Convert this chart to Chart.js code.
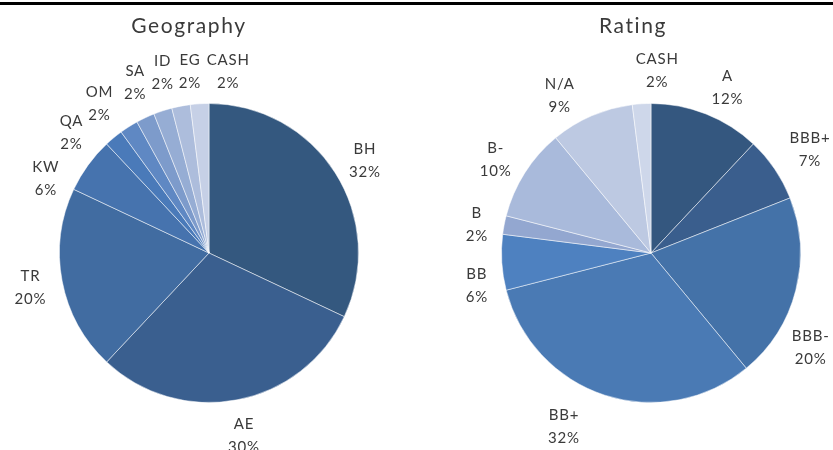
<!DOCTYPE html>
<html>
<head>
<meta charset="utf-8">
<script src="https://cdn.jsdelivr.net/npm/chart.js@4.4.1/dist/chart.umd.min.js"></script>
<style>
  html, body { margin: 0; padding: 0; background: #ffffff; }
  body { width: 833px; height: 450px; overflow: hidden; position: relative; }
  #topline { position: absolute; left: 0; top: 2px; width: 833px; height: 3px; background: #000; }
  .box { position: absolute; top: 0; height: 450px; }
</style>
</head>
<body>
<div id="topline"></div>
<div class="box" style="left:0;width:420px"><canvas id="geo"></canvas></div>
<div class="box" style="left:420px;width:413px"><canvas id="rat"></canvas></div>
<script>
// ---- data ----
const geoTitle = 'Geography';
const geoLabels = ['BH', 'AE', 'TR', 'KW', 'QA', 'OM', 'SA', 'ID', 'EG', 'CASH'];
const geoValues = [32, 30, 20, 6, 2, 2, 2, 2, 2, 2];

const ratingTitle = 'Rating';
const ratingLabels = ['A', 'BBB+', 'BBB-', 'BB+', 'BB', 'B', 'B-', 'N/A', 'CASH'];
const ratingValues = [12, 7, 20, 32, 6, 2, 10, 9, 2];

// ---- styles ----
const geoColors = ['#34587F', '#3A5F8F', '#416CA1', '#4673AE', '#4A7AB9', '#5F88C3', '#7D9BCB', '#96ADD4', '#ADBDDC', '#C6D0E6'];
const ratingColors = ['#34577F', '#3A5E8D', '#4472A8', '#4A7AB4', '#4E81C0', '#93A7D0', '#A9BADB', '#BDC9E2', '#CED7EA'];
const textColor = '#3a3a3a';
// label placement tweaks (best-fit style, degrees along the circle / extra px outward)
const geoLabelNudge = [1.7, -0.3, 0.7, -11.2, -10.3, -4.3, 1.1, 3.1, 4.6, 9.5];
const geoLabelPush = [0, 0, 0, 0, 4, 4, 4, 4, 0, 0];
const ratingLabelNudge = [3.3, 0.5, 15.6, 9.2, -6, -1.2, -1.3, -7, 5.5];
const ratingLabelPush = [0, 5, 0, 9, 0, 0, 0, 0, 0];

// title plugin
const sideTitle = {
  id: 'sideTitle',
  afterDraw(chart, args, o) {
    const ctx = chart.ctx;
    ctx.save();
    ctx.font = o.font;
    if ('letterSpacing' in ctx) ctx.letterSpacing = o.spacing;
    ctx.fillStyle = o.color;
    ctx.textAlign = 'center';
    ctx.textBaseline = 'alphabetic';
    ctx.fillText(o.text, o.x, o.y);
    ctx.restore();
  }
};

// outside labels plugin
const outsideLabels = {
  id: 'outsideLabels',
  afterDatasetsDraw(chart, args, o) {
    const ctx = chart.ctx;
    const meta = chart.getDatasetMeta(0);
    const labels = chart.data.labels;
    const data = chart.data.datasets[0].data;
    ctx.save();
    ctx.font = o.font;
    if ('letterSpacing' in ctx) ctx.letterSpacing = o.spacing;
    ctx.fillStyle = o.color;
    ctx.textAlign = 'center';
    ctx.textBaseline = 'middle';
    const deg = Math.PI / 180;
    const items = meta.data.map((arc, i) => {
      const p = arc.getProps(['x', 'y', 'startAngle', 'endAngle', 'outerRadius'], true);
      const lines = [labels[i], data[i] + '%'];
      const w = Math.max(...lines.map(l => ctx.measureText(l).width));
      const h = lines.length * o.lineHeight;
      const nudge = (o.nudge && o.nudge[i]) || 0;
      const push = (o.push && o.push[i]) || 0;
      return { cx: p.x, cy: p.y, r: p.outerRadius + push, a: (p.startAngle + p.endAngle) / 2 + nudge * deg, w, h, lines };
    });
    const place = it => {
      const dx = Math.cos(it.a), dy = Math.sin(it.a), d = it.r + o.gap;
      it.x = it.cx + dx * d + dx * (it.w / 2 + o.boxPadX);
      it.y = it.cy + dy * d + dy * it.h / 2;
    };
    items.forEach(place);
    const overlap = (p, q) => Math.abs(p.x - q.x) < (p.w + q.w) / 2 + o.padX &&
                              Math.abs(p.y - q.y) < (p.h + q.h) / 2 + o.padY;
    const step = Math.PI / 720;
    for (let iter = 0; iter < 800; iter++) {
      let moved = false;
      for (let i = 0; i < items.length; i++) {
        const p = items[i], q = items[(i + 1) % items.length];
        if (p === q) continue;
        if (overlap(p, q)) { p.a -= step; q.a += step; place(p); place(q); moved = true; }
      }
      if (!moved) break;
    }
    const W = chart.width;
    const inside = it => it.x - it.w / 2 >= 0 && it.x + it.w / 2 <= W;
    items.forEach(it => {
      if (inside(it)) return;
      const a0 = it.a;
      for (let k = 1; k < 360; k++) {
        for (const s of [1, -1]) {
          it.a = a0 + s * k * step; place(it);
          if (inside(it)) return;
        }
      }
      it.a = a0; place(it);
    });
    items.forEach(it => {
      const top = it.y - it.h / 2 + o.lineHeight / 2 + o.textShiftY;
      it.lines.forEach((l, j) => ctx.fillText(l, it.x, top + j * o.lineHeight));
    });
    ctx.restore();
  }
};

function makePie(id, labels, values, colors, title, titleX, pad, nudge, push) {
  return new Chart(document.getElementById(id), {
    type: 'pie',
    data: {
      labels: labels,
      datasets: [{
        data: values,
        backgroundColor: colors,
        borderColor: 'rgba(255,255,255,0.5)',
        borderWidth: 1
      }]
    },
    options: {
      responsive: true,
      maintainAspectRatio: false,
      animation: false,
      layout: { padding: pad },
      plugins: {
        legend: { display: false },
        tooltip: { enabled: false },
        title: { display: false },
        sideTitle: { text: title, x: titleX, y: 33, font: '21px Lato', spacing: '1.6px', color: textColor },
        outsideLabels: { font: '15px Lato', spacing: '0.8px', color: textColor, lineHeight: 23, gap: 12, boxPadX: 4, textShiftY: 2, padX: 2, padY: 0, nudge: nudge, push: push }
      }
    },
    plugins: [sideTitle, outsideLabels]
  });
}

makePie('geo', geoLabels, geoValues, geoColors, geoTitle, 189, { left: 59, right: 61, top: 103, bottom: 47 }, geoLabelNudge, geoLabelPush);
makePie('rat', ratingLabels, ratingValues, ratingColors, ratingTitle, 213, { left: 81, right: 32, top: 103, bottom: 47 }, ratingLabelNudge, ratingLabelPush);
</script>
</body>
</html>
